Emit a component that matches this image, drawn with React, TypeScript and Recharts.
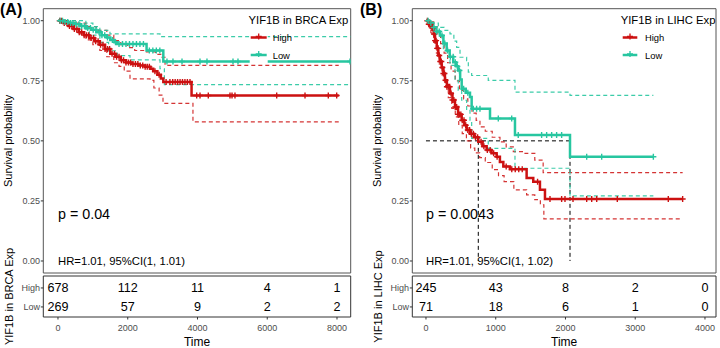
import React from 'react';
import {
  ComposedChart,
  ScatterChart,
  Line,
  Scatter,
  XAxis,
  YAxis,
  ReferenceArea,
  ReferenceLine,
  ReferenceDot,
} from 'recharts';

const RED = '#cc1111';
const TEAL = '#27c6a0';
const FONT = "'Liberation Sans', Arial, Helvetica, sans-serif";
const TICK_COLOR = '#4d4d4d';

// ---------------- Panel A: BRCA ----------------
const brcaTimeTicks = [0, 2000, 4000, 6000, 8000];
const brcaHigh = [
  [0, 1], [150, 0.99], [300, 0.978], [450, 0.966], [600, 0.952], [750, 0.94], [900, 0.928],
  [1050, 0.915], [1200, 0.9], [1350, 0.882], [1500, 0.862], [1650, 0.85], [1800, 0.835],
  [1950, 0.826], [2100, 0.82], [2300, 0.814], [2500, 0.808], [2650, 0.8], [2730, 0.79],
  [2850, 0.775], [2950, 0.76], [3020, 0.745], [3830, 0.689], [8050, 0.689],
];
const brcaHighUpper = [
  [0, 1], [300, 1], [500, 0.99], [800, 0.975], [1100, 0.96], [1400, 0.94], [1600, 0.917],
  [1800, 0.9], [2000, 0.888], [2200, 0.876], [2500, 0.87], [2800, 0.86], [2950, 0.848],
  [3070, 0.814], [8050, 0.814],
];
const brcaHighLower = [
  [0, 1], [200, 0.985], [400, 0.965], [600, 0.945], [800, 0.92], [1000, 0.9], [1200, 0.876],
  [1400, 0.85], [1600, 0.825], [1750, 0.81], [1900, 0.79], [2065, 0.758], [2640, 0.752],
  [2750, 0.72], [2900, 0.69], [3011, 0.656], [3870, 0.579], [8050, 0.579],
];
const brcaLow = [
  [0, 1], [200, 0.995], [350, 0.99], [500, 0.985], [650, 0.978], [800, 0.97], [950, 0.962],
  [1100, 0.952], [1250, 0.94], [1400, 0.93], [1500, 0.92], [1620, 0.91], [1700, 0.903],
  [2540, 0.876], [3020, 0.83], [8393, 0.83],
];
const brcaLowUpper = [
  [0, 1], [600, 1], [800, 0.99], [1000, 0.975], [1200, 0.96], [1490, 0.945], [2925, 0.934],
  [8393, 0.934],
];
const brcaLowLower = [
  [0, 1], [300, 0.985], [600, 0.965], [900, 0.94], [1200, 0.91], [1450, 0.875], [1700, 0.855],
  [2065, 0.837], [2925, 0.8], [3050, 0.734], [8393, 0.734],
];
const brcaHighCensor = [
  50, 100, 180, 260, 330, 400, 470, 540, 610, 680, 750, 820, 880, 950, 1020, 1080, 1150, 1220,
  1290, 1350, 1420, 1480, 1550, 1620, 1680, 1750, 1820, 1880, 1950, 2020, 2080, 2150, 2220,
  2290, 2360, 2430, 2500, 2560, 2620, 2780, 2900, 3100, 3210, 3290, 3360, 3430, 3500, 3570,
  3640, 3710, 3785, 3977, 4072, 4310, 4932, 4990, 5075, 6271, 7083, 7751, 7991,
];
const brcaLowCensor = [
  60, 130, 200, 280, 360, 430, 520, 600, 680, 760, 850, 930, 1010, 1090, 1180, 1260, 1340,
  1420, 1560, 1650, 1750, 1850, 1950, 2050, 2150, 2250, 2350, 2450, 2620, 2720, 2820, 2920,
  3125, 3297, 3556, 4072, 4272, 5018, 5161, 8373,
];
const brcaRiskHigh = [678, 112, 11, 4, 1];
const brcaRiskLow = [269, 57, 9, 2, 2];

// ---------------- Panel B: LIHC ----------------
const lihcTimeTicks = [0, 1000, 2000, 3000, 4000];
const lihcHigh = [
  [0, 1], [40, 0.985], [80, 0.97], [110, 0.945], [130, 0.917], [155, 0.885], [177, 0.855],
  [200, 0.83], [225, 0.805], [250, 0.78], [272, 0.752], [300, 0.725], [344, 0.697], [380, 0.67],
  [416, 0.641], [460, 0.61], [512, 0.586], [550, 0.565], [583, 0.545], [630, 0.53], [690, 0.515],
  [750, 0.496], [810, 0.478], [870, 0.462], [940, 0.448], [1013, 0.434], [1060, 0.412],
  [1109, 0.393], [1204, 0.382], [1443, 0.345], [1538, 0.33], [1634, 0.296], [1706, 0.258],
  [3680, 0.258],
];
const lihcHighUpper = [
  [0, 1], [60, 0.995], [110, 0.975], [160, 0.945], [210, 0.905], [260, 0.865], [310, 0.825],
  [360, 0.79], [420, 0.75], [480, 0.71], [540, 0.675], [600, 0.645], [660, 0.615], [720, 0.585],
  [774, 0.558], [850, 0.54], [950, 0.515], [1061, 0.496], [1150, 0.475], [1252, 0.455],
  [1420, 0.448], [1560, 0.42], [1680, 0.368], [3680, 0.368],
];
const lihcHighLower = [
  [0, 1], [30, 0.98], [70, 0.95], [110, 0.91], [150, 0.865], [190, 0.82], [230, 0.775],
  [270, 0.73], [320, 0.68], [370, 0.635], [420, 0.6], [470, 0.565], [520, 0.53], [580, 0.5],
  [640, 0.47], [700, 0.45], [770, 0.43], [850, 0.41], [950, 0.38], [1040, 0.355], [1120, 0.33],
  [1260, 0.296], [1443, 0.275], [1560, 0.255], [1640, 0.234], [1690, 0.175], [3680, 0.175],
];
const lihcLow = [
  [0, 1], [50, 0.99], [105, 0.972], [150, 0.955], [200, 0.938], [250, 0.905], [297, 0.876],
  [340, 0.85], [391, 0.827], [430, 0.81], [463, 0.793], [490, 0.755], [512, 0.717], [570, 0.7],
  [631, 0.682], [655, 0.634], [918, 0.593], [1276, 0.524], [2065, 0.434], [3260, 0.434],
];
const lihcLowUpper = [
  [0, 1], [90, 0.99], [177, 0.972], [260, 0.96], [344, 0.945], [400, 0.915], [440, 0.889],
  [488, 0.848], [583, 0.834], [607, 0.786], [655, 0.772], [893, 0.752], [1276, 0.703],
  [2065, 0.689], [3260, 0.689],
];
const lihcLowLower = [
  [0, 1], [60, 0.975], [153, 0.938], [249, 0.876], [344, 0.814], [416, 0.752], [463, 0.71],
  [512, 0.669], [583, 0.627], [631, 0.586], [655, 0.51], [893, 0.469], [1276, 0.386],
  [2065, 0.271], [3260, 0.271],
];
const lihcHighCensor = [
  20, 40, 55, 70, 85, 100, 115, 130, 145, 160, 175, 190, 205, 220, 235, 250, 265, 280, 300, 320,
  340, 360, 380, 400, 420, 440, 460, 480, 500, 520, 545, 570, 600, 625, 650, 680, 710, 740, 790,
  830, 880, 920, 970, 1020, 1150, 1230, 1280, 1330, 1380, 1600, 1778, 1945, 1993, 2108, 2304,
  2376, 2448, 2743, 3474, 3680,
];
const lihcLowCensor = [
  30, 70, 110, 150, 190, 230, 270, 310, 350, 390, 420, 450, 480, 540, 600, 678, 726, 774, 1037,
  1229, 1323, 1658, 1730, 1802, 1873, 1945, 2304, 2519, 3260,
];
const lihcMedianHigh = 750;
const lihcMedianLow = 2065;
const lihcRiskHigh = [245, 43, 8, 2, 0];
const lihcRiskLow = [71, 18, 6, 1, 0];

const riskGroups = ['High', 'Low'];
const survTicks = [0, 0.25, 0.5, 0.75, 1];

// ---------------- helpers ----------------
type Pt = { t: number; s: number };
const toPts = (arr: number[][]): Pt[] => arr.map(([t, s]) => ({ t, s }));
const stepAt = (curve: number[][], t: number) => {
  let s = curve[0][1];
  for (const [ct, cs] of curve) {
    if (ct <= t) s = cs;
    else break;
  }
  return s;
};
const censorPts = (curve: number[][], times: number[]): Pt[] =>
  times.map((t) => ({ t, s: stepAt(curve, t) }));

const plusShape = (color: string) => (props: any) => {
  const { cx, cy } = props;
  if (cx == null || cy == null) return <g />;
  return (
    <path
      d={`M${cx - 3},${cy}H${cx + 3}M${cx},${cy - 3}V${cy + 3}`}
      stroke={color}
      strokeWidth={1.4}
      fill="none"
    />
  );
};

const numShape = (props: any) => {
  const { cx, cy, payload } = props;
  if (cx == null || cy == null) return <g />;
  return (
    <text x={cx} y={cy} textAnchor="middle" dominantBaseline="central" fontSize={12.6} fill="#000">
      {payload.n}
    </text>
  );
};

const rotLabel = (text: string, x: number) => (props: any) => {
  const vb = props.viewBox || {};
  const cy = (vb.y || 0) + (vb.height || 0) / 2;
  return (
    <text
      x={x}
      y={cy}
      transform={`rotate(-90 ${x} ${cy})`}
      textAnchor="middle"
      fontSize={11}
      fill="#000"
    >
      {text}
    </text>
  );
};

type Cfg = {
  left: number;
  axisW: number;
  marginRight: number;
  domainX: number[];
  ticksX: number[];
  high: number[][];
  highUp: number[][];
  highLo: number[][];
  low: number[][];
  lowUp: number[][];
  lowLo: number[][];
  highCens: number[];
  lowCens: number[];
  pText: string;
  hrText: string;
  groupTitle: string;
  riskHigh: number[];
  riskLow: number[];
  medians?: number[];
};

const Y_DOMAIN = [-0.05, 1.05];

function SurvPanel({ cfg }: { cfg: Cfg }) {
  const [x0, x1] = cfg.domainX;
  const tableData = [
    ...cfg.ticksX.map((t, i) => ({ t, row: 1, n: cfg.riskHigh[i] })),
    ...cfg.ticksX.map((t, i) => ({ t, row: 2, n: cfg.riskLow[i] })),
  ];
  const titleX = 12.5;
  const ciDash = '4 3';
  return (
    <>
      <div style={{ position: 'absolute', left: cfg.left, top: 0 }}>
        <ComposedChart
          width={360}
          height={276}
          margin={{ top: 8.7, right: cfg.marginRight, bottom: 0, left: 0 }}
          data={[]}
        >
          <XAxis
            type="number"
            dataKey="t"
            domain={[x0, x1]}
            ticks={cfg.ticksX}
            interval={0}
            tick={false}
            tickSize={2.5}
            height={3}
            axisLine={false}
            tickLine={{ stroke: '#333' }}
            allowDataOverflow
          />
          <YAxis
            type="number"
            dataKey="s"
            domain={Y_DOMAIN}
            ticks={survTicks}
            interval={0}
            tickFormatter={(v: number) => v.toFixed(2)}
            width={cfg.axisW}
            tickSize={2.5}
            tickMargin={0.8}
            axisLine={false}
            tickLine={{ stroke: '#333' }}
            tick={{ fontSize: 9, fill: TICK_COLOR }}
            allowDataOverflow
            label={{ value: 'Survival probability', content: rotLabel('Survival probability', titleX + cfg.axisW - 43.3) }}
          />
          <ReferenceArea x1={x0} x2={x1} y1={Y_DOMAIN[0]} y2={Y_DOMAIN[1]} fill="none" stroke="#555" strokeWidth={1} />
          {cfg.medians && (
            <ReferenceLine
              segment={[{ x: 0, y: 0.5 }, { x: cfg.medians[1], y: 0.5 }]}
              stroke="#000"
              strokeDasharray={ciDash}
              strokeWidth={1}
            />
          )}
          {cfg.medians &&
            cfg.medians.map((m) => (
              <ReferenceLine
                key={m}
                segment={[{ x: m, y: 0.5 }, { x: m, y: 0 }]}
                stroke="#000"
                strokeDasharray={ciDash}
                strokeWidth={1}
              />
            ))}
          <Line data={toPts(cfg.highUp)} dataKey="s" type="stepAfter" stroke={RED} strokeOpacity={0.85} strokeWidth={1.2} strokeDasharray={ciDash} dot={false} activeDot={false} isAnimationActive={false} />
          <Line data={toPts(cfg.highLo)} dataKey="s" type="stepAfter" stroke={RED} strokeOpacity={0.85} strokeWidth={1.2} strokeDasharray={ciDash} dot={false} activeDot={false} isAnimationActive={false} />
          <Line data={toPts(cfg.lowUp)} dataKey="s" type="stepAfter" stroke={TEAL} strokeOpacity={0.9} strokeWidth={1.2} strokeDasharray={ciDash} dot={false} activeDot={false} isAnimationActive={false} />
          <Line data={toPts(cfg.lowLo)} dataKey="s" type="stepAfter" stroke={TEAL} strokeOpacity={0.9} strokeWidth={1.2} strokeDasharray={ciDash} dot={false} activeDot={false} isAnimationActive={false} />
          <Line data={toPts(cfg.high)} dataKey="s" type="stepAfter" stroke={RED} strokeWidth={2.5} dot={false} activeDot={false} isAnimationActive={false} />
          <Scatter data={censorPts(cfg.high, cfg.highCens)} fill={RED} shape={plusShape(RED)} isAnimationActive={false} />
          <Line data={toPts(cfg.low)} dataKey="s" type="stepAfter" stroke={TEAL} strokeWidth={2.5} dot={false} activeDot={false} isAnimationActive={false} />
          <Scatter data={censorPts(cfg.low, cfg.lowCens)} fill={TEAL} shape={plusShape(TEAL)} isAnimationActive={false} />
          <ReferenceDot
            x={0}
            y={0.197}
            r={0}
            fill="none"
            stroke="none"
            ifOverflow="visible"
            label={{ value: cfg.pText, position: 'right', offset: 0, fontSize: 14.3, fill: '#000' }}
          />
          <ReferenceDot
            x={0}
            y={0.0}
            r={0}
            fill="none"
            stroke="none"
            ifOverflow="visible"
            label={{ value: cfg.hrText, position: 'right', offset: 0, fontSize: 11.3, fill: '#000' }}
          />
        </ComposedChart>
      </div>
      <div style={{ position: 'absolute', left: cfg.left, top: 240 }}>
        <ScatterChart
          width={360}
          height={108}
          margin={{ top: 36, right: cfg.marginRight, bottom: 0, left: 0 }}
        >
          <XAxis
            type="number"
            dataKey="t"
            domain={[x0, x1]}
            ticks={cfg.ticksX}
            interval={0}
            tickSize={2.5}
            tickMargin={5}
            height={31}
            axisLine={false}
            tickLine={{ stroke: '#333' }}
            tick={{ fontSize: 9, fill: TICK_COLOR }}
            allowDataOverflow
            label={{ value: 'Time', position: 'insideBottom', offset: 2, fontSize: 12, fill: '#000' }}
          />
          <YAxis
            type="number"
            dataKey="row"
            domain={[0.37, 2.53]}
            reversed
            ticks={[1, 2]}
            interval={0}
            tickFormatter={(v: number) => riskGroups[v - 1]}
            width={cfg.axisW}
            tickSize={2.5}
            tickMargin={0.8}
            axisLine={false}
            tickLine={{ stroke: '#333' }}
            tick={{ fontSize: 9, fill: TICK_COLOR }}
            allowDataOverflow
            label={{ value: cfg.groupTitle, content: rotLabel(cfg.groupTitle, titleX + cfg.axisW - 43.3) }}
          />
          <ReferenceArea x1={x0} x2={x1} y1={0.37} y2={2.53} fill="none" stroke="#333" strokeWidth={1} />
          <Scatter data={tableData} shape={numShape} isAnimationActive={false} />
        </ScatterChart>
      </div>
    </>
  );
}

function LegendBox({ titleRight, keyX0, keyX1, textX, title }: { titleRight: number; keyX0: number; keyX1: number; textX: number; title: string }) {
  const rows = [
    { label: 'High', color: RED, y: 37.5 },
    { label: 'Low', color: TEAL, y: 55 },
  ];
  const kc = (keyX0 + keyX1) / 2;
  return (
    <g>
      <text x={titleRight} y={19.5} textAnchor="end" dominantBaseline="central" fontSize={11.3} fill="#000">
        {title}
      </text>
      {rows.map((r) => (
        <g key={r.label}>
          <rect x={keyX0 - 1} y={r.y - 8.5} width={keyX1 - keyX0 + 2} height={17} fill="#fff" />
          <line x1={keyX0} x2={keyX1} y1={r.y} y2={r.y} stroke={r.color} strokeWidth={2.5} />
          <path d={`M${kc - 3},${r.y - 1}H${kc + 3}M${kc},${r.y - 4}V${r.y + 2}`} stroke={r.color} strokeWidth={1.3} />
          <text x={textX} y={r.y} dominantBaseline="central" fontSize={9.4} fill="#000">
            {r.label}
          </text>
        </g>
      ))}
    </g>
  );
}

const brcaCfg: Cfg = {
  left: 0,
  axisW: 43.3,
  marginRight: 9.3,
  domainX: [-421, 8393],
  ticksX: brcaTimeTicks,
  high: brcaHigh,
  highUp: brcaHighUpper,
  highLo: brcaHighLower,
  low: brcaLow,
  lowUp: brcaLowUpper,
  lowLo: brcaLowLower,
  highCens: brcaHighCensor,
  lowCens: brcaLowCensor,
  pText: 'p = 0.04',
  hrText: 'HR=1.01, 95%CI(1, 1.01)',
  groupTitle: 'YIF1B in BRCA Exp',
  riskHigh: brcaRiskHigh,
  riskLow: brcaRiskLow,
};

const lihcCfg: Cfg = {
  left: 360,
  axisW: 52.3,
  marginRight: 4,
  domainX: [-196, 4158],
  ticksX: lihcTimeTicks,
  high: lihcHigh,
  highUp: lihcHighUpper,
  highLo: lihcHighLower,
  low: lihcLow,
  lowUp: lihcLowUpper,
  lowLo: lihcLowLower,
  highCens: lihcHighCensor,
  lowCens: lihcLowCensor,
  pText: 'p = 0.0043',
  hrText: 'HR=1.01, 95%CI(1, 1.02)',
  groupTitle: 'YIF1B in LIHC Exp',
  riskHigh: lihcRiskHigh,
  riskLow: lihcRiskLow,
  medians: [lihcMedianHigh, lihcMedianLow],
};

export default function App() {
  return (
    <div
      style={{
        position: 'absolute',
        left: 0,
        top: 0,
        width: 720,
        height: 348,
        background: '#fff',
        fontFamily: FONT,
        overflow: 'hidden',
      }}
    >
      <SurvPanel cfg={brcaCfg} />
      <SurvPanel cfg={lihcCfg} />
      <svg width={720} height={348} style={{ position: 'absolute', left: 0, top: 0, pointerEvents: 'none' }}>
        <text x={0} y={15} fontSize={16} fontWeight="bold" fill="#000">(A)</text>
        <text x={360} y={15} fontSize={16} fontWeight="bold" fill="#000">(B)</text>
        <LegendBox title="YIF1B in BRCA Exp" titleRight={348.3} keyX0={250.7} keyX1={266.7} textX={272.7} />
        <LegendBox title="YIF1B in LIHC Exp" titleRight={715.5} keyX0={622.7} keyX1={637.3} textX={645} />
      </svg>
    </div>
  );
}
